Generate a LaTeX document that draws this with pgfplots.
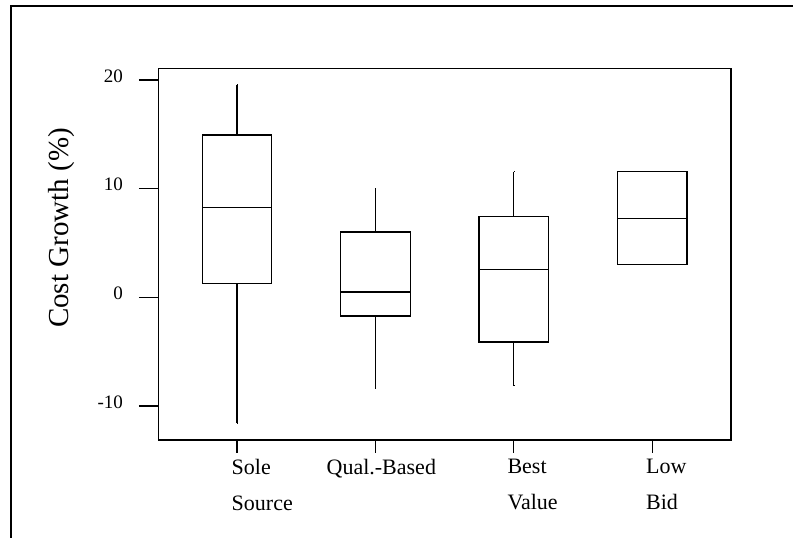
\documentclass[border=0pt]{standalone}
\usepackage{fontspec}
\setmainfont{Liberation Serif}
\usepackage{pgfplots}
\pgfplotsset{compat=1.18}
\usepgfplotslibrary{statistics}
\begin{document}
\begin{tikzpicture}
\useasboundingbox (0pt,0pt) rectangle (793pt,538pt);
\fill[white] (0pt,0pt) rectangle (793pt,538pt);
\draw[line width=2pt] (11pt,-5pt) -- (11pt,532pt) -- (800pt,532pt);
\begin{axis}[
  at={(158.7pt,98pt)}, anchor=south west,
  scale only axis, width=572.3pt, height=371.7pt,
  xmin=0.434, xmax=4.569, ymin=-13.13, ymax=21.08,
  axis line style={line width=1.3pt},
  xtick={1,2,3,4}, xticklabels={},
  ytick={-10,0,10,20}, yticklabels={-10,0,10,20},
  tick align=outside, xtick pos=bottom, ytick pos=left,
  xtick style={black, line width=1.3pt, /pgfplots/major tick length=12.7pt},
  ytick style={black, line width=1.3pt, /pgfplots/major tick length=19.7pt},
  yticklabel style={font=\fontsize{19}{22}\selectfont, anchor=east, inner sep=0pt, xshift=-31.4pt, yshift=4pt},
  boxplot/draw direction=y,
  clip=false,
]
\addplot+[black, solid, line width=1.3pt, mark=none, boxplot prepared={draw position=1, lower whisker=-11.6, lower quartile=1.25, median=8.25, upper quartile=14.94, upper whisker=19.54, box extend=0.503, whisker extend=0.001}] coordinates {};
\addplot+[black, solid, line width=1.3pt, mark=none, boxplot prepared={draw position=2, lower whisker=-8.41, lower quartile=-1.72, median=0.49, upper quartile=6.01, upper whisker=10.0, box extend=0.503, whisker extend=0.001}] coordinates {};
\addplot+[black, solid, line width=1.3pt, mark=none, boxplot prepared={draw position=3, lower whisker=-8.13, lower quartile=-4.10, median=2.58, upper quartile=7.42, upper whisker=11.56, box extend=0.503, whisker extend=0.001}] coordinates {};
\addplot+[black, solid, line width=1.3pt, mark=none, boxplot prepared={draw position=4, lower whisker=3.0, lower quartile=3.0, median=7.28, upper quartile=11.56, upper whisker=11.56, box extend=0.503, whisker extend=0.001}] coordinates {};
\begin{scope}[every node/.style={anchor=north west, inner sep=0pt, align=left, font=\fontsize{22}{35.7}\selectfont, yshift=-19pt}]
\node[xshift=-5.5pt] at (axis cs:1,-13.13) {Sole\\Source};
\node[xshift=-49pt] at (axis cs:2,-13.13) {Qual.-Based};
\node[xshift=-6.5pt] at (axis cs:3,-13.13) {Best\\Value};
\node[xshift=-6.3pt] at (axis cs:4,-13.13) {Low\\Bid};
\end{scope}
\end{axis}
\node[rotate=90, anchor=base, font=\fontsize{29}{34}\selectfont] at (68.3pt,310pt) {Cost Growth (\%)};
\end{tikzpicture}
\end{document}
